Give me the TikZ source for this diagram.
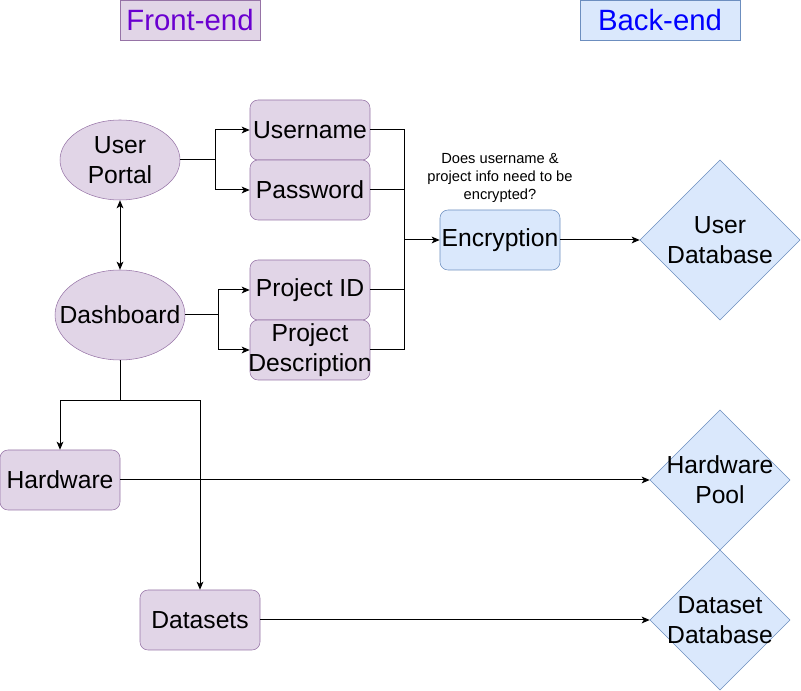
\documentclass[tikz,border=0pt]{standalone}
\usepackage{fontspec}
\setmainfont{Liberation Sans}
\usetikzlibrary{shapes.geometric,arrows.meta,calc}
\definecolor{pfill}{HTML}{E1D5E7}
\definecolor{pline}{HTML}{9673A6}
\definecolor{bfill}{HTML}{DAE8FC}
\definecolor{bline}{HTML}{6C8EBF}
\definecolor{ftext}{HTML}{6A00D0}
\definecolor{btext}{HTML}{0000FF}
\newcommand{\zb}[1]{\makebox[0pt]{#1}}
\tikzset{
  pbox/.style={draw=pline,fill=pfill,rounded corners=6pt,minimum width=90pt,minimum height=45pt,inner sep=0pt,align=center,font=\fontsize{18.5}{22.5}\selectfont},
  pell/.style={draw=pline,fill=pfill,ellipse,inner sep=0pt,align=center,font=\fontsize{18.5}{22.5}\selectfont},
  bbox/.style={draw=bline,fill=bfill,rounded corners=6pt,minimum width=90pt,minimum height=45pt,inner sep=0pt,align=center,font=\fontsize{18.5}{22.5}\selectfont},
  bdia/.style={draw=bline,fill=bfill,diamond,inner sep=0pt,aspect=1,align=center,font=\fontsize{18.5}{22.5}\selectfont},
  conn/.style={draw=black,line width=0.75pt,-{Stealth[length=6pt,width=5pt,inset=1.5pt]}},
  line/.style={draw=black,line width=0.75pt},
}
\begin{document}
\begin{tikzpicture}[x=0.75pt,y=-0.75pt]
\useasboundingbox (0,0) rectangle (801,691);
% headers
\node[draw=pline,fill=pfill,minimum width=105pt,minimum height=30pt,inner sep=0pt,text=ftext,font=\fontsize{22}{24}\selectfont] (fe) at (190,20) {Front-end};
\node[draw=bline,fill=bfill,minimum width=120pt,minimum height=30pt,inner sep=0pt,text=btext,font=\fontsize{22}{24}\selectfont] (be) at (660,20) {Back-end};
% front-end nodes
\node[pell,minimum width=90pt,minimum height=60pt] (up) at (120,160) {\zb{User}\\\zb{Portal}};
\node[pell,minimum width=97.5pt,minimum height=67.5pt] (db) at (120,315) {\zb{Dashboard}};
\node[pbox] (un) at (310,130) {Username};
\node[pbox] (pw) at (310,190) {Password};
\node[pbox] (pid) at (310,290) {Project ID};
\node[pbox] (pd) at (310,350) {Project\\\zb{Description}};
\node[pbox] (hw) at (60,480) {Hardware};
\node[pbox] (ds) at (200,620) {Datasets};
% back-end nodes
\node[bbox] (enc) at (500,240) {Encryption};
\node[align=center,font=\fontsize{11}{13.5}\selectfont] (q) at (500,178) {Does username \&\\project info need to be\\encrypted?};
\node[bdia,minimum width=120pt,minimum height=120pt] (udb) at (720,240) {\zb{User}\\\zb{Database}};
\node[bdia,minimum width=105pt,minimum height=105pt] (hp) at (720,480) {\zb{Hardware}\\\zb{Pool}};
\node[bdia,minimum width=105pt,minimum height=105pt] (dd) at (720,620) {\zb{Dataset}\\\zb{Database}};
% connectors
\coordinate (j1) at ($(up.east)+(35,0)$);
\draw[conn] (up.east) -- (j1) |- (un.west);
\draw[conn] (up.east) -- (j1) |- (pw.west);
\draw[line,{Stealth[length=6pt,width=5pt,inset=1.5pt]}-{Stealth[length=6pt,width=5pt,inset=1.5pt]}] (up.south) -- (db.north);
\coordinate (j2) at ($(db.east)+(33,0)$);
\draw[conn] (db.east) -- (j2) |- (pid.west);
\draw[conn] (db.east) -- (j2) |- (pd.west);
\coordinate (j3) at ($(enc.west)+(-35,0)$);
\draw[line] (un.east) -| (j3);
\draw[line] (pw.east) -| (j3);
\draw[line] (pid.east) -| (j3);
\draw[line] (pd.east) -| (j3);
\draw[conn] (j3) -- (enc.west);
\draw[conn] (enc.east) -- (udb.west);
\coordinate (j4) at ($(db.south)+(0,40)$);
\draw[conn] (db.south) -- (j4) -| (hw.north);
\draw[conn] (db.south) -- (j4) -| (ds.north);
\draw[conn] (hw.east) -- (hp.west);
\draw[conn] (ds.east) -- (dd.west);
\end{tikzpicture}
\end{document}
